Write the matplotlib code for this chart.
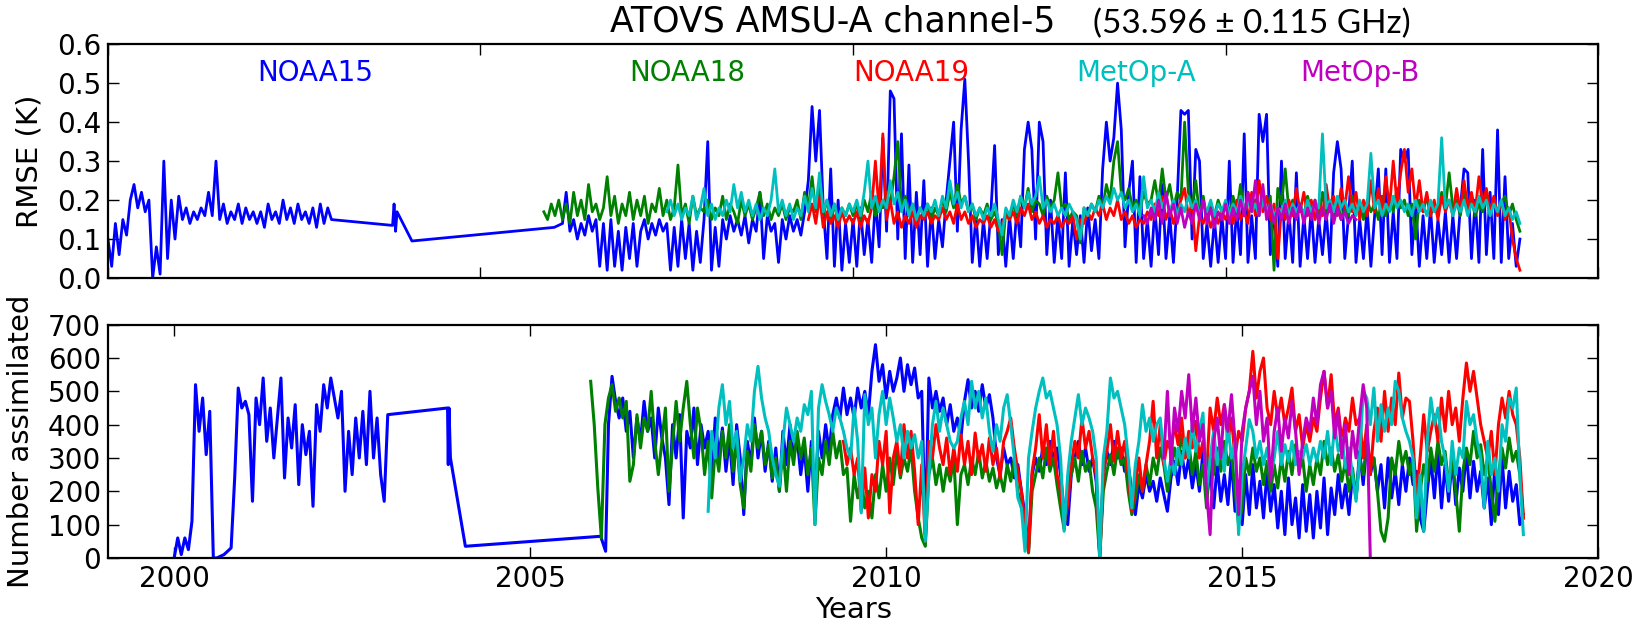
import numpy as np
import matplotlib
matplotlib.use("Agg")
import matplotlib.pyplot as plt

plt.rcParams['font.family'] = ['DejaVu Sans']

STEP = 0.05  # years between samples

# ---------------- NOAA15 ----------------
# early period, 2000.00 .. 2002.95
n15_early_start = 2000.0
n15_early_rmse = [
    0.10, 0.03, 0.14, 0.06, 0.15, 0.11, 0.20, 0.24, 0.18, 0.22, 0.17, 0.20, 0.00, 0.08, 0.01, 0.30, 0.05, 0.20, 0.10, 0.21,
    0.15, 0.18, 0.14, 0.17, 0.15, 0.18, 0.16, 0.22, 0.16, 0.30, 0.15, 0.19, 0.14, 0.17, 0.15, 0.19, 0.14, 0.18, 0.15, 0.17,
    0.14, 0.17, 0.13, 0.19, 0.15, 0.17, 0.14, 0.20, 0.15, 0.18, 0.14, 0.19, 0.15, 0.17, 0.14, 0.18, 0.13, 0.19, 0.14, 0.18]
n15_early_num = [
    0, 60, 10, 60, 25, 110, 520, 380, 480, 310, 440, 0, 0, 5, 10, 20, 30, 240, 510, 450,
    470, 430, 170, 480, 400, 540, 350, 450, 300, 420, 540, 240, 420, 330, 460, 220, 400, 310, 380, 155,
    460, 380, 520, 450, 540, 480, 420, 500, 200, 380, 250, 420, 300, 440, 280, 500, 300, 420, 250, 170]
# sparse points across the 2003-2006 gap
n15_gap_years_rmse = [2003.0, 2003.82, 2003.84, 2003.86, 2003.88, 2004.08, 2005.99]
n15_gap_rmse = [0.15, 0.135, 0.19, 0.12, 0.17, 0.095, 0.13]
n15_gap_years_num = [2003.0, 2003.84, 2003.85, 2003.86, 2003.88, 2004.09, 2005.99, 2006.06]
n15_gap_num = [430, 450, 280, 450, 300, 35, 65, 20]
# from 2006.10
n15_start = 2006.10
n15_rmse = [
    0.14, 0.22, 0.12, 0.15, 0.10, 0.14, 0.11, 0.16, 0.12, 0.15, 0.03, 0.14, 0.02, 0.15, 0.03, 0.12, 0.02, 0.13,
    0.05, 0.14, 0.03, 0.12, 0.15, 0.10, 0.14, 0.11, 0.15, 0.12, 0.14, 0.02, 0.13, 0.03, 0.15, 0.05, 0.14, 0.02, 0.12, 0.04,
    0.15, 0.35, 0.02, 0.13, 0.03, 0.15, 0.10, 0.16, 0.12, 0.15, 0.11, 0.16, 0.09, 0.15, 0.12, 0.22, 0.05, 0.16, 0.12, 0.14,
    0.04, 0.15, 0.10, 0.16, 0.12, 0.15, 0.11, 0.17, 0.25, 0.44, 0.30, 0.43, 0.18, 0.05, 0.28, 0.03, 0.20, 0.02, 0.14, 0.04,
    0.15, 0.03, 0.18, 0.06, 0.15, 0.04, 0.20, 0.08, 0.36, 0.12, 0.48, 0.46, 0.10, 0.37, 0.05, 0.29, 0.04, 0.22, 0.06, 0.25,
    0.03, 0.18, 0.05, 0.15, 0.08, 0.20, 0.30, 0.40, 0.12, 0.38, 0.51, 0.30, 0.04, 0.16, 0.03, 0.15, 0.05, 0.17, 0.34, 0.06,
    0.15, 0.03, 0.16, 0.05, 0.18, 0.08, 0.33, 0.40, 0.33, 0.10, 0.40, 0.35, 0.06, 0.20, 0.04, 0.16, 0.05, 0.27, 0.03, 0.15,
    0.06, 0.16, 0.04, 0.18, 0.07, 0.15, 0.05, 0.28, 0.40, 0.30, 0.36, 0.50, 0.38, 0.08, 0.22, 0.30, 0.04, 0.26, 0.05, 0.15,
    0.03, 0.18, 0.06, 0.24, 0.05, 0.16, 0.04, 0.20, 0.43, 0.42, 0.43, 0.10, 0.33, 0.30, 0.05, 0.14, 0.03, 0.15, 0.04, 0.16,
    0.05, 0.30, 0.04, 0.18, 0.06, 0.37, 0.04, 0.16, 0.05, 0.42, 0.35, 0.42, 0.06, 0.18, 0.03, 0.30, 0.05, 0.17, 0.04, 0.27,
    0.03, 0.16, 0.05, 0.18, 0.04, 0.15, 0.06, 0.17, 0.04, 0.27, 0.35, 0.28, 0.05, 0.16, 0.30, 0.04, 0.15, 0.05, 0.18, 0.03,
    0.16, 0.28, 0.06, 0.28, 0.04, 0.17, 0.05, 0.33, 0.30, 0.33, 0.06, 0.20, 0.03, 0.16, 0.05, 0.18, 0.04, 0.15, 0.06, 0.17,
    0.04, 0.16, 0.05, 0.18, 0.28, 0.27, 0.05, 0.20, 0.04, 0.33, 0.06, 0.22, 0.05, 0.38, 0.04, 0.26, 0.05, 0.14, 0.03, 0.10]
n15_num = [
    400, 545, 470, 420, 480, 380, 440, 300, 420, 350, 470, 380, 420, 300, 450, 360, 300, 160,
    400, 300, 430, 120, 380, 330, 450, 280, 400, 330, 380, 250, 420, 300, 390, 260, 360, 220, 400, 300,
    130, 350, 280, 420, 300, 380, 260, 350, 230, 330, 200, 380, 280, 400, 300, 360, 250, 330, 200, 350,
    180, 380, 300, 400, 320, 430, 480, 420, 510, 430, 480, 420, 510, 450, 500, 430, 560, 640, 530, 580,
    480, 560, 500, 540, 600, 500, 580, 520, 570, 480, 500, 70, 540, 450, 500, 440, 480, 400, 460, 380,
    420, 360, 470, 535, 450, 500, 440, 520, 450, 490, 420, 300, 250, 330, 280, 300, 240, 280, 200, 130,
    30, 250, 300, 260, 330, 280, 350, 300, 330, 250, 140, 100, 250, 300, 350, 280, 330, 260, 300, 230,
    10, 250, 320, 280, 350, 300, 330, 260, 280, 200, 130, 220, 180, 250, 200, 230, 170, 240, 190, 140,
    240, 290, 220, 320, 240, 300, 210, 280, 200, 320, 180, 260, 150, 280, 170, 250, 160, 300, 140, 230,
    100, 250, 130, 280, 150, 230, 120, 260, 140, 220, 90, 200, 70, 240, 100, 180, 60, 220, 80, 190,
    60, 200, 90, 240, 70, 210, 130, 250, 150, 220, 130, 250, 180, 320, 220, 340, 250, 300, 200, 280,
    150, 300, 180, 260, 160, 280, 200, 300, 220, 260, 120, 80, 200, 300, 180, 320, 150, 280, 170, 300,
    160, 270, 200, 320, 180, 290, 200, 260, 150, 240, 100, 280, 130, 300, 150, 260, 170, 220, 100, 130]

# ---------------- NOAA18 (from 2005.85) ----------------
n18_start = 2005.85
n18_rmse = [
    0.17, 0.15, 0.19,
    0.16, 0.20, 0.15, 0.19, 0.14, 0.22, 0.16, 0.20, 0.15, 0.24, 0.17, 0.19, 0.15, 0.18, 0.26, 0.16, 0.21, 0.14, 0.19, 0.16,
    0.22, 0.15, 0.20, 0.16, 0.21, 0.14, 0.19, 0.17, 0.23, 0.16, 0.20, 0.15, 0.18, 0.29, 0.16, 0.19, 0.14, 0.21, 0.16, 0.18,
    0.17, 0.20, 0.15, 0.18, 0.16, 0.21, 0.15, 0.19, 0.17, 0.14, 0.20, 0.16, 0.19, 0.15, 0.18, 0.22, 0.16, 0.19, 0.15, 0.18,
    0.16, 0.19, 0.15, 0.18, 0.17, 0.20, 0.15, 0.22, 0.18, 0.26, 0.17, 0.23, 0.16, 0.20, 0.15, 0.19, 0.14, 0.18, 0.16, 0.19,
    0.16, 0.19, 0.15, 0.20, 0.17, 0.22, 0.16, 0.20, 0.18, 0.22, 0.19, 0.26, 0.35, 0.18, 0.21, 0.16, 0.19, 0.15, 0.18, 0.16,
    0.19, 0.15, 0.18, 0.16, 0.20, 0.17, 0.22, 0.18, 0.24, 0.19, 0.21, 0.17, 0.19, 0.15, 0.18, 0.16, 0.19, 0.15, 0.17, 0.14,
    0.06, 0.17, 0.15, 0.19, 0.16, 0.21, 0.18, 0.23, 0.17, 0.20, 0.19, 0.16, 0.21, 0.18, 0.20, 0.27, 0.18, 0.19, 0.15, 0.17,
    0.16, 0.09, 0.18, 0.16, 0.19, 0.17, 0.21, 0.18, 0.24, 0.20, 0.30, 0.35, 0.22, 0.20, 0.23, 0.18, 0.20, 0.17, 0.22, 0.19,
    0.20, 0.25, 0.19, 0.28, 0.20, 0.24, 0.18, 0.22, 0.20, 0.40, 0.22, 0.18, 0.25, 0.16, 0.21, 0.15, 0.19, 0.16, 0.20, 0.17,
    0.19, 0.15, 0.21, 0.17, 0.24, 0.16, 0.22, 0.18, 0.20, 0.18, 0.19, 0.17, 0.21, 0.02, 0.23, 0.19, 0.28, 0.17, 0.20, 0.16,
    0.19, 0.16, 0.21, 0.17, 0.20, 0.15, 0.22, 0.17, 0.19, 0.16, 0.20, 0.15, 0.18, 0.16, 0.21, 0.17, 0.19, 0.15, 0.20, 0.17,
    0.19, 0.15, 0.21, 0.16, 0.20, 0.17, 0.23, 0.18, 0.20, 0.16, 0.19, 0.10, 0.20, 0.17, 0.21, 0.16, 0.19, 0.17, 0.22, 0.18,
    0.27, 0.18, 0.20, 0.16, 0.22, 0.17, 0.20, 0.16, 0.19, 0.17, 0.21, 0.16, 0.20, 0.17, 0.19, 0.21, 0.16, 0.19, 0.15, 0.12]
n18_num = [
    530, 400, 210,
    60, 400, 480, 520, 440, 480, 420, 470, 230, 280, 430, 330, 420, 380, 500, 350, 250, 350, 450, 200,
    340, 470, 350, 450, 530, 400, 300, 450, 380, 250, 350, 180, 330, 260, 380, 300, 400, 260, 350, 220,
    150, 320, 260, 400, 330, 380, 280, 340, 240, 300, 200, 330, 200, 350, 280, 380, 300, 360, 250, 330,
    100, 300, 250, 350, 280, 380, 300, 350, 250, 270, 110, 250, 180, 240, 150, 200, 120, 250, 180, 280,
    200, 300, 220, 320, 240, 300, 260, 330, 200, 120, 60, 35, 250, 300, 220, 280, 200, 270, 230, 300,
    100, 250, 280, 220, 300, 250, 320, 240, 290, 230, 270, 210, 250, 200, 280, 230, 300, 200, 150, 100,
    15, 200, 250, 300, 240, 330, 260, 300, 220, 150, 85, 200, 250, 300, 230, 320, 260, 290, 200, 150,
    0, 200, 260, 310, 250, 330, 280, 300, 200, 130, 180, 250, 200, 280, 220, 300, 250, 330, 280, 200,
    260, 330, 280, 370, 300, 350, 250, 320, 220, 280, 150, 300, 250, 330, 260, 350, 280, 320, 200, 100,
    150, 300, 250, 330, 260, 300, 220, 290, 200, 280, 210, 300, 230, 320, 250, 340, 260, 300, 200, 280,
    220, 300, 250, 350, 280, 330, 260, 310, 230, 290, 200, 270, 180, 300, 250, 340, 270, 300, 200, 80,
    50, 120, 300, 250, 350, 280, 320, 250, 300, 80, 200, 280, 230, 330, 260, 350, 280, 320, 220, 300,
    200, 80, 260, 330, 280, 380, 300, 340, 250, 300, 200, 110, 250, 330, 270, 360, 290, 320, 250, 120]

# ---------------- NOAA19 (from 2009.40) ----------------
n19_start = 2009.40
n19_rmse = [
    0.15, 0.19, 0.14, 0.21, 0.13, 0.17, 0.14, 0.16, 0.13, 0.17, 0.14, 0.16,
    0.14, 0.17, 0.13, 0.16, 0.14, 0.18, 0.30, 0.17, 0.37, 0.15, 0.20, 0.14, 0.17, 0.13, 0.16, 0.14, 0.17, 0.13, 0.16, 0.15,
    0.17, 0.14, 0.16, 0.15, 0.18, 0.15, 0.17, 0.14, 0.19, 0.15, 0.17, 0.14, 0.16, 0.13, 0.15, 0.14, 0.16, 0.13, 0.15, 0.12,
    0.14, 0.16, 0.15, 0.17, 0.14, 0.18, 0.16, 0.19, 0.15, 0.17, 0.14, 0.16, 0.13, 0.15, 0.14, 0.16, 0.13, 0.15, 0.14, 0.16,
    0.10, 0.15, 0.14, 0.17, 0.15, 0.18, 0.16, 0.19, 0.15, 0.18, 0.16, 0.20, 0.15, 0.17, 0.14, 0.16, 0.13, 0.15, 0.14, 0.17,
    0.15, 0.19, 0.16, 0.21, 0.15, 0.18, 0.14, 0.17, 0.20, 0.23, 0.16, 0.19, 0.07, 0.16, 0.14, 0.17, 0.13, 0.16, 0.14, 0.17,
    0.15, 0.18, 0.14, 0.20, 0.15, 0.17, 0.14, 0.22, 0.16, 0.25, 0.17, 0.21, 0.15, 0.19, 0.05, 0.18, 0.15, 0.20, 0.16, 0.23,
    0.17, 0.22, 0.16, 0.20, 0.15, 0.19, 0.16, 0.24, 0.17, 0.21, 0.16, 0.23, 0.18, 0.26, 0.17, 0.22, 0.15, 0.20, 0.16, 0.25,
    0.17, 0.23, 0.16, 0.26, 0.18, 0.30, 0.19, 0.27, 0.33, 0.22, 0.28, 0.18, 0.25, 0.17, 0.22, 0.16, 0.20, 0.15, 0.21, 0.17,
    0.20, 0.16, 0.23, 0.17, 0.25, 0.18, 0.22, 0.17, 0.26, 0.19, 0.23, 0.17, 0.21, 0.16, 0.20, 0.15, 0.18, 0.10, 0.05, 0.02]
n19_num = [
    350, 280, 330, 250, 300, 140, 270, 120, 250, 200, 350, 280,
    380, 135, 300, 350, 250, 400, 300, 380, 260, 100, 280, 50, 350, 300, 400, 330, 280, 360, 250, 330,
    260, 370, 280, 350, 250, 375, 290, 340, 260, 360, 280, 330, 240, 350, 380, 420, 330, 260, 200, 100,
    20, 260, 330, 430, 300, 400, 280, 380, 250, 200, 100, 160, 280, 350, 300, 420, 330, 380, 300, 250,
    0, 250, 320, 400, 290, 380, 300, 350, 250, 140, 220, 300, 200, 280, 350, 470, 300, 400, 280, 350,
    320, 400, 340, 420, 300, 380, 330, 410, 300, 350, 250, 450, 380, 480, 400, 460, 350, 420, 300, 380,
    350, 450, 500, 620, 480, 560, 600, 450, 400, 500, 420, 480, 400, 450, 510, 380, 430, 330, 400, 350,
    420, 380, 480, 560, 450, 550, 400, 450, 350, 420, 380, 480, 400, 420, 300, 400, 250, 380, 450, 350,
    500, 380, 480, 400, 555, 420, 480, 470, 350, 180, 300, 430, 320, 380, 430, 350, 480, 380, 500, 400,
    450, 350, 480, 585, 500, 560, 480, 400, 350, 300, 380, 250, 400, 480, 420, 500, 430, 400, 300, 120]

# ---------------- MetOp-A (from 2007.50) ----------------
ma_start = 2007.50
ma_rmse = [
    0.17, 0.20, 0.16, 0.19, 0.15, 0.18, 0.16, 0.21, 0.15, 0.18,
    0.23, 0.16, 0.19, 0.15, 0.18, 0.16, 0.20, 0.17, 0.24, 0.18, 0.22, 0.17, 0.20, 0.16, 0.19, 0.15, 0.18, 0.16, 0.20, 0.28,
    0.17, 0.20, 0.16, 0.19, 0.15, 0.18, 0.16, 0.21, 0.17, 0.23, 0.18, 0.27, 0.17, 0.20, 0.16, 0.19, 0.15, 0.18, 0.16, 0.19,
    0.17, 0.20, 0.16, 0.22, 0.30, 0.18, 0.21, 0.17, 0.20, 0.18, 0.25, 0.19, 0.22, 0.17, 0.20, 0.16, 0.19, 0.15, 0.18, 0.16,
    0.19, 0.17, 0.20, 0.16, 0.21, 0.18, 0.25, 0.19, 0.22, 0.18, 0.21, 0.17, 0.19, 0.16, 0.18, 0.15, 0.18, 0.16, 0.19, 0.15,
    0.11, 0.18, 0.16, 0.20, 0.17, 0.21, 0.18, 0.22, 0.19, 0.21, 0.26, 0.18, 0.20, 0.17, 0.19, 0.16, 0.18, 0.16, 0.19, 0.17,
    0.15, 0.10, 0.18, 0.16, 0.19, 0.17, 0.20, 0.18, 0.21, 0.19, 0.23, 0.20, 0.22, 0.18, 0.20, 0.17, 0.19, 0.16, 0.26, 0.18,
    0.20, 0.17, 0.22, 0.18, 0.21, 0.17, 0.20, 0.16, 0.19, 0.17, 0.21, 0.18, 0.20, 0.16, 0.19, 0.17, 0.20, 0.16, 0.19, 0.17,
    0.20, 0.16, 0.19, 0.17, 0.21, 0.18, 0.20, 0.17, 0.19, 0.16, 0.20, 0.17, 0.19, 0.16, 0.18, 0.17, 0.20, 0.16, 0.19, 0.17,
    0.19, 0.16, 0.20, 0.17, 0.19, 0.18, 0.37, 0.18, 0.20, 0.17, 0.21, 0.18, 0.20, 0.17, 0.19, 0.16, 0.20, 0.17, 0.19, 0.32,
    0.18, 0.20, 0.16, 0.19, 0.17, 0.21, 0.18, 0.20, 0.17, 0.19, 0.16, 0.20, 0.17, 0.19, 0.16, 0.20, 0.17, 0.19, 0.36, 0.18,
    0.20, 0.16, 0.19, 0.17, 0.20, 0.16, 0.19, 0.17, 0.21, 0.18, 0.20, 0.16, 0.19, 0.17, 0.20, 0.16, 0.18, 0.15, 0.17, 0.14]
ma_num = [
    140, 380, 300, 450, 520, 400, 470, 330, 380, 230,
    300, 400, 350, 500, 575, 480, 420, 380, 300, 250, 215, 350, 450, 400, 350, 420, 380, 460, 430, 500,
    100, 450, 520, 470, 430, 380, 450, 420, 380, 330, 300, 450, 350, 135, 490, 400, 450, 300, 430, 500,
    400, 480, 420, 350, 400, 300, 380, 330, 370, 300, 350, 50, 250, 400, 470, 380, 450, 400, 350, 330,
    350, 420, 470, 400, 530, 450, 500, 420, 480, 380, 320, 400, 350, 450, 490, 400, 300, 180, 150, 20,
    300, 380, 450, 500, 540, 480, 500, 450, 400, 300, 80, 250, 350, 420, 490, 400, 450, 420, 380, 300,
    0, 300, 380, 540, 480, 500, 450, 400, 300, 150, 280, 350, 460, 380, 420, 350, 400, 420, 300, 230,
    300, 250, 330, 280, 360, 300, 400, 320, 380, 435, 200, 300, 380, 280, 350, 260, 400, 300, 350, 70,
    250, 330, 415, 380, 300, 350, 280, 330, 250, 300, 380, 280, 340, 290, 350, 280, 320, 300, 340, 280,
    330, 290, 350, 300, 380, 280, 400, 320, 360, 270, 330, 250, 170, 300, 500, 480, 400, 510, 350, 460,
    380, 450, 400, 530, 500, 420, 380, 350, 300, 120, 250, 80, 350, 480, 400, 450, 350, 300, 200, 350,
    250, 330, 300, 470, 400, 430, 350, 300, 150, 350, 250, 300, 200, 400, 350, 480, 450, 510, 250, 70]

# ---------------- MetOp-B (from 2013.90) ----------------
mb_start = 2013.90
mb_rmse = [
    0.16, 0.14,
    0.18, 0.15, 0.20, 0.14, 0.22, 0.16, 0.19, 0.14, 0.18, 0.13, 0.17, 0.14, 0.19, 0.15, 0.20, 0.14, 0.18, 0.13, 0.17, 0.15,
    0.19, 0.14, 0.18, 0.15, 0.20, 0.16, 0.22, 0.17, 0.25, 0.16, 0.24, 0.15, 0.19, 0.14, 0.18, 0.15, 0.19, 0.14, 0.18, 0.15,
    0.19, 0.14, 0.18, 0.15, 0.20, 0.14, 0.18, 0.15, 0.19, 0.14, 0.18, 0.15, 0.17, 0.14, 0.16, 0.15]
mb_num = [
    300, 500,
    280, 450, 380, 500, 420, 550, 380, 480, 350, 400, 200, 70, 350, 420, 300, 460, 380, 490, 350, 130,
    380, 450, 500, 545, 400, 500, 350, 420, 230, 380, 450, 320, 420, 360, 470, 380, 250, 350, 420, 380,
    480, 400, 520, 560, 450, 500, 360, 440, 300, 400, 250, 380, 300, 420, 520, 450, 0]

sat_names = ['NOAA15', 'NOAA18', 'NOAA19', 'MetOp-A', 'MetOp-B']
sat_colors = ['b', 'g', 'r', 'c', 'm']
label_years = [2002, 2007, 2010, 2013, 2016]
year_ticks = [2000, 2005, 2010, 2015, 2020]


def grid(start, vals):
    return start + STEP * np.arange(len(vals))


def n15_series(early, gap_years, gap_vals, dense):
    t = np.concatenate([grid(n15_early_start, early), gap_years, grid(n15_start, dense)])
    v = np.concatenate([early, gap_vals, dense])
    return t, v


rmse_series = [
    n15_series(n15_early_rmse, n15_gap_years_rmse, n15_gap_rmse, n15_rmse),
    (grid(n18_start, n18_rmse), n18_rmse),
    (grid(n19_start, n19_rmse), n19_rmse),
    (grid(ma_start, ma_rmse), ma_rmse),
    (grid(mb_start, mb_rmse), mb_rmse),
]
num_series = [
    n15_series(n15_early_num, n15_gap_years_num, n15_gap_num, n15_num),
    (grid(n18_start, n18_num), n18_num),
    (grid(n19_start, n19_num), n19_num),
    (grid(ma_start, ma_num), ma_num),
    (grid(mb_start, mb_num), mb_num),
]

fig = plt.figure(figsize=(16.43, 6.22), dpi=100)
ax1 = fig.add_axes([0.0657, 0.553, 0.907, 0.376])
ax2 = fig.add_axes([0.0657, 0.103, 0.907, 0.375])

for (t, v), c in zip(rmse_series, sat_colors):
    ax1.plot(t, v, color=c, lw=2.0)
for (t, v), c in zip(num_series, sat_colors):
    ax2.plot(t, v, color=c, lw=2.2)

for name, c, yr in zip(sat_names, sat_colors, label_years):
    ax1.text(yr, 0.525, name, color=c, fontsize=20, va='center', ha='left')

ax1.set_xlim(2000, 2020)
ax1.set_ylim(0, 0.6)
ax1.set_xticks(year_ticks)
ax1.set_xticklabels([])
ax1.set_yticks(np.arange(0, 0.61, 0.1))
ax1.set_yticklabels(['%.1f' % y for y in np.arange(0, 0.61, 0.1)])
ax1.set_ylabel('RMSE (K)', fontsize=21)

ax2.set_xlim(1999.07, 2020)
ax2.set_ylim(0, 700)
ax2.set_xticks(year_ticks)
ax2.set_yticks(range(0, 701, 100))
ax2.set_ylabel('Number assimilated', fontsize=21)
ax2.set_xlabel('Years', fontsize=21, labelpad=2)

for ax in (ax1, ax2):
    ax.tick_params(direction='in', length=8, width=1, top=True, right=True,
                   labelsize=20, pad=5)
    for s in ax.spines.values():
        s.set_linewidth(1.6)
ax1.yaxis.set_label_coords(-0.043, 0.5)
ax2.yaxis.set_label_coords(-0.049, 0.5)

fig.text(0.507, 0.966, 'ATOVS AMSU-A channel-5', fontsize=25, ha='center', va='center')
fig.text(0.665, 0.961, '(53.596 \u00b1 0.115 GHz)', fontsize=24, ha='left', va='center',
         family=['Lato', 'DejaVu Sans'])

fig.savefig('out.png', dpi=100)
